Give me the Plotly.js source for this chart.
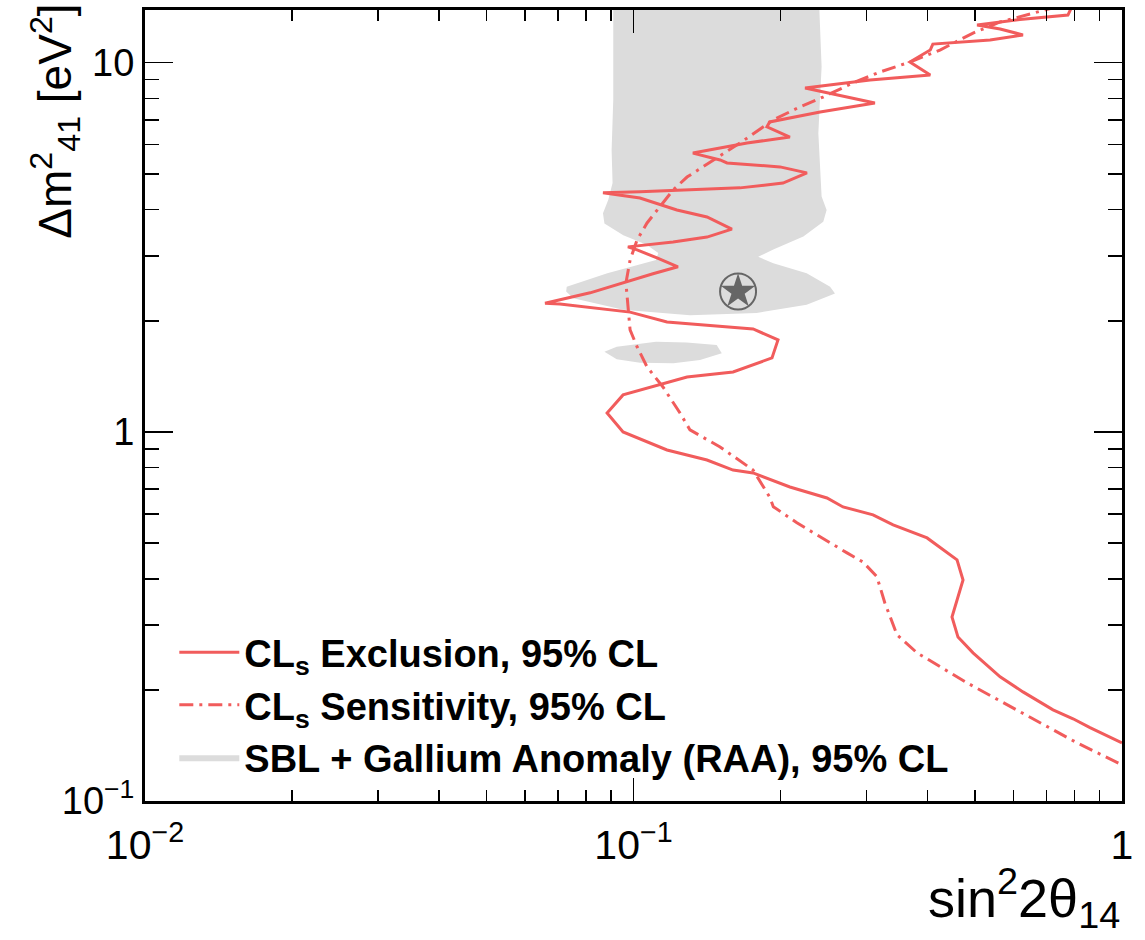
<!DOCTYPE html>
<html>
<head>
<meta charset="utf-8">
<script src="https://cdn.plot.ly/plotly-3.0.1.min.js"></script>
<style>
  html, body { margin: 0; padding: 0; background: #ffffff; }
  #chart { width: 1145px; height: 940px; }
</style>
</head>
<body>
<div id="chart"></div>
<script>
// ---- Data (sin^2 2theta_14, Delta m^2_41 [eV^2]) ----
const exclusionX = [0.79, 0.775, 0.618, 0.505, 0.563, 0.627, 0.537, 0.410, 0.405, 0.368, 0.405, 0.305, 0.2245, 0.312, 0.241, 0.190, 0.1876, 0.209, 0.1708, 0.1323, 0.1504, 0.1554, 0.1995, 0.2265, 0.2023, 0.1652, 0.1031, 0.0866, 0.1031, 0.1227, 0.1414, 0.159, 0.1414, 0.1205, 0.0974, 0.1017, 0.1117, 0.1233, 0.1096, 0.0952, 0.0815, 0.0659, 0.0707, 0.0984, 0.1171, 0.1757, 0.1976, 0.1921, 0.1757, 0.1599, 0.1287, 0.0952, 0.0883, 0.0952, 0.1171, 0.1414, 0.1599, 0.1757, 0.209, 0.2489, 0.2685, 0.3093, 0.340, 0.399, 0.4595, 0.4727, 0.4487, 0.4616, 0.4955, 0.563, 0.627, 0.7225, 0.794, 0.860, 1.0];
const exclusionY = [14.2, 13.46, 13.1, 12.65, 12.34, 11.89, 11.52, 11.23, 10.82, 10.04, 9.26, 8.98, 8.54, 7.78, 7.35, 6.91, 6.70, 6.29, 6.06, 5.69, 5.45, 5.35, 5.22, 5.03, 4.72, 4.58, 4.47, 4.44, 4.30, 3.99, 3.82, 3.54, 3.37, 3.27, 3.17, 3.11, 2.96, 2.80, 2.68, 2.53, 2.38, 2.23, 2.22, 2.11, 1.985, 1.90, 1.774, 1.586, 1.517, 1.453, 1.408, 1.259, 1.125, 0.999, 0.893, 0.839, 0.788, 0.774, 0.709, 0.662, 0.626, 0.596, 0.560, 0.516, 0.450, 0.397, 0.315, 0.278, 0.252, 0.217, 0.1975, 0.1765, 0.167, 0.158, 0.1437];

const sensitivityX = [0.74, 0.639, 0.563, 0.4955, 0.424, 0.368, 0.3198, 0.2813, 0.2443, 0.219, 0.1933, 0.1652, 0.1455, 0.1287, 0.1205, 0.1133, 0.1066, 0.1017, 0.0984, 0.0965, 0.0974, 0.0984, 0.1017, 0.1066, 0.1149, 0.1245, 0.1305, 0.1504, 0.1757, 0.190, 0.1933, 0.216, 0.2736, 0.295, 0.315, 0.327, 0.3463, 0.3805, 0.4816, 0.6095, 0.809, 1.0];
const sensitivityY = [14.2, 13.46, 12.89, 12.03, 10.82, 10.04, 9.44, 8.81, 8.07, 7.59, 7.00, 6.06, 5.45, 4.90, 4.52, 4.07, 3.68, 3.31, 2.92, 2.53, 2.14, 1.888, 1.70, 1.499, 1.323, 1.125, 1.012, 0.910, 0.788, 0.666, 0.627, 0.567, 0.470, 0.444, 0.405, 0.344, 0.282, 0.252, 0.209, 0.1765, 0.1437, 0.1253];

const raaX = [0.0909, 0.0909, 0.0902, 0.0906, 0.0888, 0.0866, 0.0872, 0.0953, 0.1064, 0.1124, 0.1112, 0.0884, 0.0730, 0.0728, 0.0753, 0.0953, 0.1305, 0.1787, 0.2262, 0.2585, 0.2526, 0.2262, 0.1933, 0.180, 0.1933, 0.2227, 0.2446, 0.2485, 0.2427, 0.2408, 0.239, 0.2408, 0.2427, 0.240];
const raaY = [14.2, 7.93, 5.80, 4.72, 4.25, 3.91, 3.67, 3.41, 3.21, 3.05, 2.92, 2.69, 2.47, 2.40, 2.30, 2.14, 2.07, 2.10, 2.21, 2.37, 2.47, 2.69, 2.86, 2.98, 3.12, 3.38, 3.71, 3.99, 4.34, 5.23, 6.44, 7.93, 9.75, 14.2];

const raaIslandX = [0.0872, 0.0924, 0.1112, 0.1285, 0.148, 0.1516, 0.1368, 0.1207, 0.1031, 0.0924];
const raaIslandY = [1.649, 1.70, 1.755, 1.746, 1.72, 1.633, 1.566, 1.534, 1.538, 1.573];

const bestFitX = [0.1637];
const bestFitY = [2.40];

const seriesNames = [
  'CL<sub>s</sub> Exclusion, 95% CL',
  'CL<sub>s</sub> Sensitivity, 95% CL',
  'SBL + Gallium Anomaly (RAA), 95% CL'
];

const xTickVals = [0.01, 0.1, 1];
const xTickText = ['10<sup>\u22122</sup>', '10<sup>\u22121</sup>', '1'];
const xMinorVals = [0.02, 0.03, 0.04, 0.05, 0.06, 0.07, 0.08, 0.09, 0.2, 0.3, 0.4, 0.5, 0.6, 0.7, 0.8, 0.9];
const yTickVals = [0.1, 1, 10];
const yTickText = ['10<sup>\u22121</sup>', '1', '10'];
const yMinorVals = [0.2, 0.3, 0.4, 0.5, 0.6, 0.7, 0.8, 0.9, 2, 3, 4, 5, 6, 7, 8, 9];

// ---- Styles ----
const RED = 'rgb(241,92,92)';
const GRAY_FILL = 'rgb(220,220,220)';
const STAR_GRAY = 'rgb(102,102,102)';
const FONT = 'Liberation Sans, Arial, Helvetica, sans-serif';

const traces = [
  {
    x: raaX, y: raaY, type: 'scatter', mode: 'lines',
    fill: 'toself', fillcolor: GRAY_FILL,
    line: {width: 0, color: GRAY_FILL},
    name: seriesNames[2], legendrank: 3, hoverinfo: 'skip'
  },
  {
    x: raaIslandX, y: raaIslandY, type: 'scatter', mode: 'lines',
    fill: 'toself', fillcolor: GRAY_FILL,
    line: {width: 0, color: GRAY_FILL},
    showlegend: false, hoverinfo: 'skip'
  },
  {
    x: sensitivityX, y: sensitivityY, type: 'scatter', mode: 'lines',
    line: {color: RED, width: 3, dash: '14px,6px,3px,6px'},
    name: seriesNames[1], legendrank: 2
  },
  {
    x: exclusionX, y: exclusionY, type: 'scatter', mode: 'lines',
    line: {color: RED, width: 3},
    name: seriesNames[0], legendrank: 1
  },
  {
    x: bestFitX, y: bestFitY, type: 'scatter', mode: 'markers',
    marker: {symbol: 'circle-open', size: 36, color: STAR_GRAY, line: {width: 2, color: STAR_GRAY}},
    showlegend: false, hoverinfo: 'skip'
  },
  {
    x: bestFitX, y: bestFitY, type: 'scatter', mode: 'markers',
    marker: {symbol: 'star', size: 26, color: STAR_GRAY, line: {width: 0}},
    showlegend: false, hoverinfo: 'skip'
  }
];

const axisCommon = {
  type: 'log',
  showline: true, linewidth: 3, linecolor: '#000',
  mirror: 'allticks', ticks: 'inside', tickcolor: '#000', tickwidth: 1.6,
  showgrid: false, zeroline: false, tickmode: 'array'
};

const layout = {
  width: 1145, height: 940,
  margin: {l: 145, r: 23, t: 10, b: 139, pad: 0},
  paper_bgcolor: '#ffffff', plot_bgcolor: '#ffffff',
  font: {family: FONT, color: '#000'},
  showlegend: true,
  xaxis: Object.assign({}, axisCommon, {
    range: [-2, 0],
    tickvals: xTickVals, ticktext: xTickText, ticklen: 23,
    tickfont: {family: FONT, size: 41, color: '#000'},
    ticklabelstandoff: 6,
    minor: {tickvals: xMinorVals, ticks: 'inside', ticklen: 11, tickwidth: 1.6, tickcolor: '#000', showgrid: false}
  }),
  yaxis: Object.assign({}, axisCommon, {
    range: [-1, 1.1427],
    tickvals: yTickVals, ticktext: yTickText, ticklen: 28,
    tickfont: {family: FONT, size: 38, color: '#000'},
    minor: {tickvals: yMinorVals, ticks: 'inside', ticklen: 14, tickwidth: 1.6, tickcolor: '#000', showgrid: false}
  }),
  legend: {
    x: 0.03, xanchor: 'left', y: 0.015, yanchor: 'bottom',
    bgcolor: 'rgba(0,0,0,0)', borderwidth: 0,
    font: {family: FONT, size: 38, color: '#000', weight: 'bold'},
    traceorder: 'normal', itemwidth: 60
  },
  annotations: [
    {
      xref: 'paper', yref: 'paper', x: -0.092, y: 1.01,
      xanchor: 'center', yanchor: 'top', textangle: -90, showarrow: false,
      text: '\u0394m<sup>2</sup><sub>41</sub> [eV<sup>2</sup>]',
      font: {family: FONT, size: 46, color: '#000'}
    },
    {
      xref: 'paper', yref: 'paper', x: 1.0, y: -0.173,
      xanchor: 'right', yanchor: 'bottom', showarrow: false,
      text: 'sin<sup>2</sup>2\u03b8<sub>14</sub>',
      font: {family: FONT, size: 54, color: '#000'}
    }
  ]
};

Plotly.newPlot('chart', traces, layout, {displayModeBar: false, staticPlot: true});
</script>
</body>
</html>
